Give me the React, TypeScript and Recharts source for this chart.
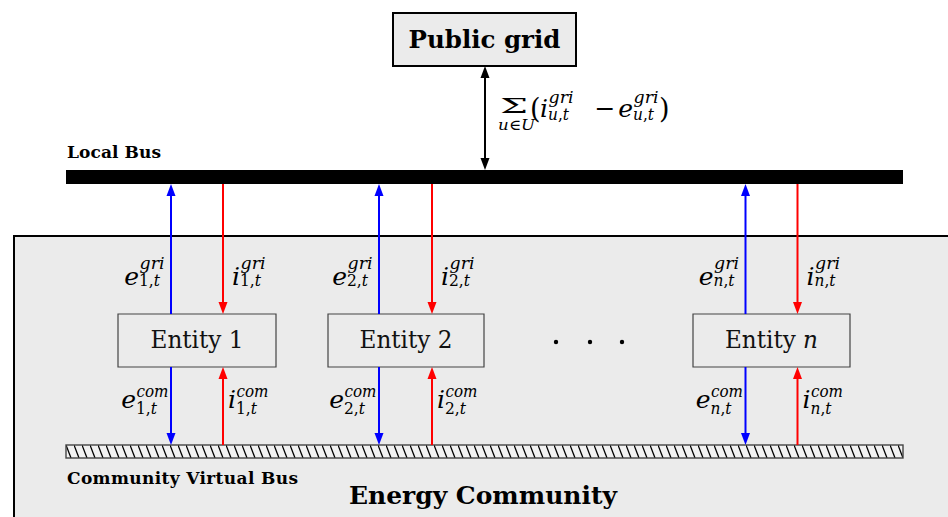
import { ReferenceArea, ReferenceLine, Scatter, ScatterChart, XAxis, YAxis } from "recharts"

const W = 948
const H = 517
const FONT = "'DejaVu Serif', serif"
const BLUE = "#0000ff"
const RED = "#ff0000"
const BG = "#ebebeb"

// diagram coordinates: x to the right, y downwards (same units as the canvas)
const busLeft = 66
const busRight = 903
const gridBox = { x1: 393, x2: 576, y1: 13, y2: 66 }
const gridLinkX = 485
const localBus = { y1: 170, y2: 184 }
const virtualBus = { y1: 445, y2: 458 }
const communityBox = { x1: 14, x2: 970, y1: 236, y2: 540 }
const entityRow = { y1: 314, y2: 367, textY: 348 }

const entityIds = ["1", "2", "n"]
const entityLeft = [118, 328, 693]
const entityRight = [276, 484, 850]
const exportX = [171, 379, 745.5]
const importX = [223, 432, 797.5]

const dotsX = [556, 590, 622]
const dotsY = 342

const captions = [
  { x: 484.5, y: 48, text: "Public grid", kind: "title" },
  { x: 67, y: 158, text: "Local Bus", kind: "small" },
  { x: 67, y: 484, text: "Community Virtual Bus", kind: "small" },
  { x: 483, y: 504, text: "Energy Community", kind: "title" },
]
const captionLength: Record<string, number> = {
  "Public grid": 152,
  "Local Bus": 94,
  "Community Virtual Bus": 231,
  "Energy Community": 268,
}

const gridLabels = entityIds.flatMap((id, k) => [
  { x: exportX[k] - 32, y: 285, base: "e", sup: "gri", id, row: "grid" },
  { x: importX[k] + 17, y: 285, base: "i", sup: "gri", id, row: "grid" },
])
const comLabels = entityIds.flatMap((id, k) => [
  { x: exportX[k] - 35, y: 408, base: "e", sup: "com", id, row: "com" },
  { x: importX[k] + 13, y: 408, base: "i", sup: "com", id, row: "com" },
])
const sumLabel = [{ x: 500, y: 117 }]
const entityLabels = entityIds.map((id, k) => ({
  x: (entityLeft[k] + entityRight[k]) / 2,
  y: entityRow.textY,
  id,
}))
const dots = dotsX.map((x) => ({ x, y: dotsY }))

const supWidth: Record<string, number> = { gri: 25, com: 32 }

const arrow = (color: string, both = false) => (p: any) => {
  const { x1, y1, x2, y2 } = p
  const len = Math.hypot(x2 - x1, y2 - y1) || 1
  const ux = (x2 - x1) / len
  const uy = (y2 - y1) / len
  const L = 12
  const hw = 4.5
  const head = (tx: number, ty: number, sx: number, sy: number) => {
    const bx = tx - sx * L
    const by = ty - sy * L
    return `${tx},${ty} ${bx - sy * hw},${by + sx * hw} ${bx + sy * hw},${by - sx * hw}`
  }
  const sx = both ? x1 + ux * (L - 1) : x1
  const sy = both ? y1 + uy * (L - 1) : y1
  return (
    <g>
      <line x1={sx} y1={sy} x2={x2 - ux * (L - 1)} y2={y2 - uy * (L - 1)} stroke={color} strokeWidth={2} />
      <polygon points={head(x2, y2, ux, uy)} fill={color} />
      {both && <polygon points={head(x1, y1, -ux, -uy)} fill={color} />}
    </g>
  )
}

const font = { fontFamily: FONT }

const Sub = ({ id, sym }: { id: string; sym: string }) => (
  <>
    {id === "n" || id === "u" ? <tspan fontStyle="italic">{id}</tspan> : <tspan>{id}</tspan>}
    <tspan>,</tspan>
    <tspan fontStyle="italic">{sym}</tspan>
  </>
)

// base letter with stacked super/subscript, anchored where the scripts start
const Script = ({ x, y, base, sup, id, supDy, subDy, baseSize = 25 }: any) => (
  <g fill="#000">
    <text x={x} y={y} style={font} fontSize={baseSize} fontStyle="italic" textAnchor="end">
      {base}
    </text>
    <text
      x={x + 0.5}
      y={y + supDy}
      style={font}
      fontSize={16}
      fontStyle="italic"
      textLength={supWidth[sup]}
      lengthAdjust="spacingAndGlyphs"
    >
      {sup}
    </text>
    <text x={x} y={y + subDy} style={font} fontSize={16} textLength={21} lengthAdjust="spacingAndGlyphs">
      <Sub id={id} sym="t" />
    </text>
  </g>
)

const MathLabel = (p: any) => {
  const d = p.payload ?? p
  const grid = d.row === "grid"
  return (
    <Script
      x={p.cx}
      y={p.cy}
      base={d.base}
      sup={d.sup}
      id={d.id}
      supDy={grid ? -16 : -11}
      subDy={grid ? 1 : 6}
    />
  )
}

const SumLabel = (p: any) => {
  const { cx, cy } = p
  return (
    <g fill="#000">
      <text x={cx} y={cy - 4} style={font} fontSize={21} textLength={28} lengthAdjust="spacingAndGlyphs">
        Σ
      </text>
      <text x={cx - 2} y={cy + 13} style={font} fontSize={15} textLength={37} lengthAdjust="spacingAndGlyphs">
        <tspan fontStyle="italic">u</tspan>
        <tspan>∈</tspan>
        <tspan fontStyle="italic">U</tspan>
      </text>
      <text x={cx + 30} y={cy + 1} style={font} fontSize={27}>(</text>
      <Script x={cx + 48} y={cy} base="i" sup="gri" id="u" supDy={-14} subDy={3} />
      <text x={cx + 105} y={cy} style={font} fontSize={25} textAnchor="middle">−</text>
      <Script x={cx + 133} y={cy} base="e" sup="gri" id="u" supDy={-14} subDy={3} />
      <text x={cx + 159} y={cy + 1} style={font} fontSize={27}>)</text>
    </g>
  )
}

const Caption = (p: any) => {
  const d = p.payload ?? p
  const title = d.kind === "title"
  return (
    <text
      x={p.cx}
      y={p.cy}
      style={font}
      fontWeight="bold"
      fontSize={title ? 25 : 17}
      textAnchor={title ? "middle" : "start"}
      textLength={captionLength[d.text]}
      lengthAdjust={title ? "spacingAndGlyphs" : "spacing"}
      fill="#000"
    >
      {d.text}
    </text>
  )
}

const EntityLabel = (p: any) => {
  const d = p.payload ?? p
  return (
    <text
      x={p.cx}
      y={p.cy}
      style={font}
      fontSize={24}
      textAnchor="middle"
      textLength={93}
      lengthAdjust="spacingAndGlyphs"
      fill="#111"
    >
      {d.id === "n" ? (
        <>
          <tspan>Entity </tspan>
          <tspan fontStyle="italic">n</tspan>
        </>
      ) : (
        `Entity ${d.id}`
      )}
    </text>
  )
}

const Dot = (p: any) => <circle cx={p.cx} cy={p.cy} r={2.2} fill="#000" />

const Hatch = (p: any) => (
  <g>
    <defs>
      <pattern id="vbusHatch" patternUnits="userSpaceOnUse" x={p.x} y={p.y} width={8} height={13}>
        <rect width={8} height={13} fill="#f2f2f2" />
        <line x1={0} y1={0} x2={5} y2={13} stroke="#000" strokeWidth={1.3} />
      </pattern>
    </defs>
    <rect x={p.x} y={p.y} width={p.width} height={p.height} fill="url(#vbusHatch)" stroke="#444" strokeWidth={1.4} />
  </g>
)

export default function App() {
  return (
    <div style={{ position: "absolute", left: 0, top: 0, background: "#fff" }}>
      <ScatterChart width={W} height={H} margin={{ top: 0, right: 0, bottom: 0, left: 0 }}>
        <XAxis type="number" dataKey="x" domain={[0, W]} hide allowDataOverflow />
        <YAxis type="number" dataKey="y" domain={[0, H]} reversed hide allowDataOverflow />

        <ReferenceArea
          {...communityBox}
          ifOverflow="hidden"
          fill={BG}
          fillOpacity={1}
          stroke="#000"
          strokeWidth={2}
        />
        <ReferenceArea {...gridBox} fill={BG} fillOpacity={1} stroke="#000" strokeWidth={2} />
        <ReferenceArea x1={busLeft} x2={busRight} {...localBus} fill="#000" fillOpacity={1} />
        <ReferenceArea x1={busLeft} x2={busRight} {...virtualBus} shape={Hatch} />
        {entityIds.map((id, k) => (
          <ReferenceArea
            key={`box-${id}`}
            x1={entityLeft[k]}
            x2={entityRight[k]}
            y1={entityRow.y1}
            y2={entityRow.y2}
            fill={BG}
            fillOpacity={1}
            stroke="#444"
            strokeWidth={1.2}
          />
        ))}

        <ReferenceLine
          segment={[
            { x: gridLinkX, y: gridBox.y2 },
            { x: gridLinkX, y: localBus.y1 },
          ]}
          stroke="#000"
          shape={arrow("#000", true)}
        />
        {entityIds.map((id, k) => (
          <ReferenceLine
            key={`eg-${id}`}
            segment={[
              { x: exportX[k], y: entityRow.y1 },
              { x: exportX[k], y: localBus.y2 },
            ]}
            stroke={BLUE}
            shape={arrow(BLUE)}
          />
        ))}
        {entityIds.map((id, k) => (
          <ReferenceLine
            key={`ig-${id}`}
            segment={[
              { x: importX[k], y: localBus.y2 },
              { x: importX[k], y: entityRow.y1 },
            ]}
            stroke={RED}
            shape={arrow(RED)}
          />
        ))}
        {entityIds.map((id, k) => (
          <ReferenceLine
            key={`ec-${id}`}
            segment={[
              { x: exportX[k], y: entityRow.y2 },
              { x: exportX[k], y: virtualBus.y1 },
            ]}
            stroke={BLUE}
            shape={arrow(BLUE)}
          />
        ))}
        {entityIds.map((id, k) => (
          <ReferenceLine
            key={`ic-${id}`}
            segment={[
              { x: importX[k], y: virtualBus.y1 },
              { x: importX[k], y: entityRow.y2 },
            ]}
            stroke={RED}
            shape={arrow(RED)}
          />
        ))}

        <Scatter data={captions} shape={Caption} isAnimationActive={false} />
        <Scatter data={entityLabels} shape={EntityLabel} isAnimationActive={false} />
        <Scatter data={gridLabels} shape={MathLabel} isAnimationActive={false} />
        <Scatter data={comLabels} shape={MathLabel} isAnimationActive={false} />
        <Scatter data={sumLabel} shape={SumLabel} isAnimationActive={false} />
        <Scatter data={dots} shape={Dot} isAnimationActive={false} />
      </ScatterChart>
    </div>
  )
}
